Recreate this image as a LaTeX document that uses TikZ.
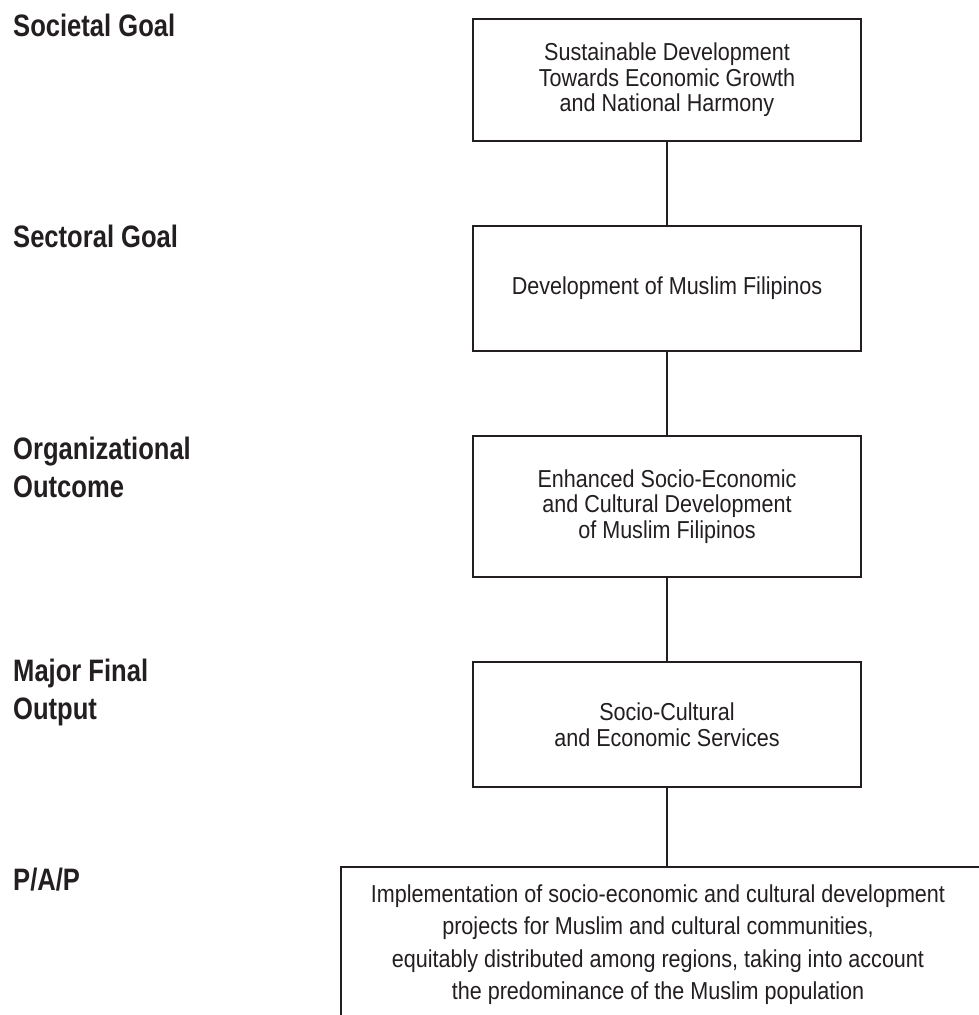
\documentclass[tikz,border=0pt]{standalone}
\usepackage{fontspec}
\newfontfamily\bodyfont{Liberation Sans}[FakeStretch=0.88]
\newfontfamily\labelfont{Liberation Sans}[FakeStretch=0.825]
\definecolor{ink}{HTML}{231F20}
\begin{document}
\begin{tikzpicture}[x=1pt,y=-1pt,
  box/.style={draw=ink, line width=1.6pt, fill=white, align=center, text=ink,
    font=\bodyfont\fontsize{24.5}{25.5}\selectfont, inner sep=0pt},
  lvl/.style={anchor=base west, align=left, text=ink, inner sep=0pt,
    font=\labelfont\bfseries\fontsize{31}{37.5}\selectfont},
  link/.style={draw=ink, line width=1.6pt}]
\clip (0,0) rectangle (979,1015);
\fill[white] (0,0) rectangle (979,1015);
% boxes
\node[box, minimum width=388pt, minimum height=122pt] (b1) at (667,80)
  {Sustainable Development\\Towards Economic Growth\\and National Harmony};
\node[box, minimum width=388pt, minimum height=125pt] (b2) at (667,288.5)
  {Development of Muslim Filipinos};
\node[box, minimum width=388pt, minimum height=141pt] (b3) at (667,506.5)
  {Enhanced Socio-Economic\\and Cultural Development\\of Muslim Filipinos};
\node[box, minimum width=388pt, minimum height=125pt] (b4) at (667,724.5)
  {Socio-Cultural\\and Economic Services};
\node[box, minimum width=640pt, minimum height=200pt, anchor=north west] (b5) at (340,866) {};
\node[align=center, text=ink, inner sep=0pt, anchor=base,
  font=\bodyfont\fontsize{24.5}{32.5}\selectfont] (t5) at (658,999.5)
  {Implementation of socio-economic and cultural development\\projects for Muslim and cultural communities,\\equitably distributed among regions, taking into account\\the predominance of the Muslim population};
% connectors
\draw[link] (b1.south) -- (b2.north);
\draw[link] (b2.south) -- (b3.north);
\draw[link] (b3.south) -- (b4.north);
\draw[link] (b4.south) -- (b4.south |- b5.north);
% level labels (base = baseline of last line)
\node[lvl] (l1) at (13,36) {Societal Goal};
\node[lvl] (l2) at (13,247) {Sectoral Goal};
\node[lvl] (l3) at (13,497) {Organizational\\Outcome};
\node[lvl] (l4) at (13,719) {Major Final\\Output};
\node[lvl] (l5) at (13,890) {P/A/P};
\end{tikzpicture}
\end{document}
